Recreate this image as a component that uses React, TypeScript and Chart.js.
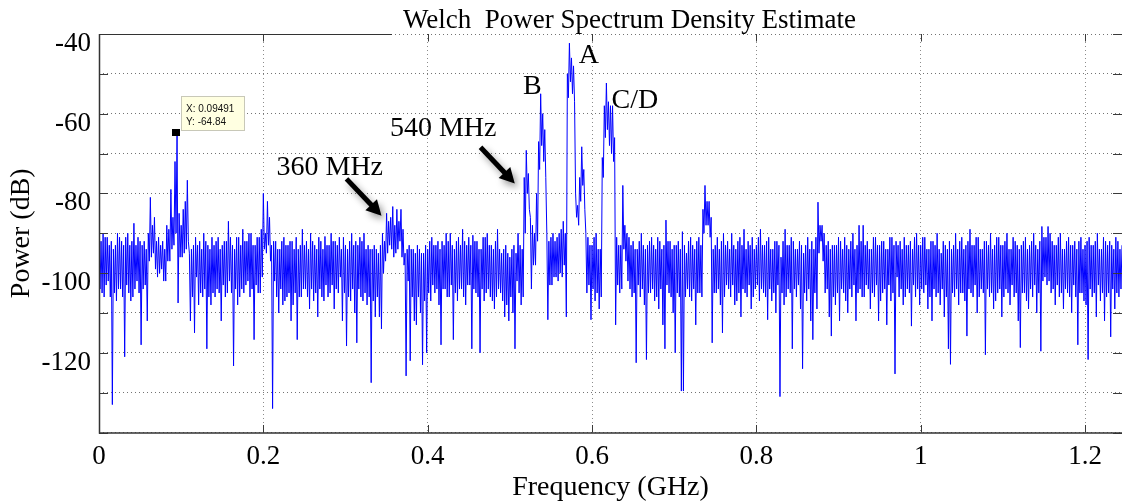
import React, { useEffect, useRef } from "react";
import { Chart, registerables } from "chart.js";

Chart.register(...registerables);

// ---- axes ----
const FREQ_STEP = 0.00125; // GHz between PSD samples
const X_MIN = 0;
const X_MAX = 1.245;
const Y_MIN = -140;
const Y_MAX = -40;
const X_TICKS = [0, 0.2, 0.4, 0.6, 0.8, 1, 1.2];
const Y_LABELS = [-40, -60, -80, -100, -120];

// ---- PSD samples (dB) ----
// 0 – 0.24875 GHz
const psd0 = [
  -93, -104, -92, -105, -90, -106, -91, -103, -91, -102,
  -93, -106, -92, -133, -94, -105, -93, -107, -90, -104,
  -91, -104, -92, -106, -93, -121, -91, -103, -90, -105,
  -93, -107, -92, -106, -87.5, -104, -93, -102, -91, -105,
  -92, -118, -93, -104, -92, -103, -94, -112, -90, -97,
  -81, -96, -88, -95, -86, -99, -92, -101, -91, -100,
  -93, -99, -92, -102, -94, -102, -88, -97, -89, -97,
  -79, -94, -86, -93, -72, -90, -64.84, -107.5, -85, -96,
  -88, -96, -84, -95, -82, -94, -76.7, -92, -95, -112,
  -94, -106, -93, -115, -91, -101, -93, -108, -92, -105,
  -94, -106, -90, -104, -92, -119, -93, -106, -94, -108,
  -91, -105, -93, -106, -92, -104, -91, -105, -94, -112,
  -93, -103, -92, -106, -92, -105, -87, -102, -91, -105,
  -93, -123.3, -94, -104, -91, -108, -91, -106, -93, -104,
  -89, -105, -92, -103, -92, -102, -90, -106, -90, -104,
  -93, -116.7, -93, -103, -91, -105, -91, -105, -89, -101,
  -80, -94, -90, -95, -82, -93, -86, -97, -93, -134,
  -92, -102, -92, -106, -94, -110, -94, -104, -92, -108,
  -91, -107, -93, -106, -93, -105, -92, -112, -92, -108,
  -94, -105, -91, -116.7, -94, -106, -93, -106, -89, -104,
];
// 0.25 – 0.49875 GHz
const psd1 = [
  -93, -104, -92, -106, -94, -109, -90, -104, -92, -107,
  -93, -105, -94, -111, -91, -104, -92, -106, -94, -107,
  -90.8, -103, -93, -106, -93, -105, -90, -103, -92, -109,
  -92, -104, -93, -105, -91, -101, -94, -112, -91, -105,
  -93, -118.3, -94, -106, -92, -107, -90, -104, -93, -110,
  -92, -117.5, -93, -104, -91, -106, -92, -107, -90, -105,
  -94, -108, -93, -106, -94, -127.5, -94, -107, -93, -111,
  -94, -106, -95, -111, -93, -114, -90, -100, -92, -97,
  -85, -95, -87, -93, -86, -94, -83.3, -96, -88, -95,
  -84, -94, -87, -92, -84, -96, -89, -98, -95, -125.8,
  -94, -102, -93, -122, -94, -106, -94, -112, -95, -113,
  -93, -106, -94, -110, -95, -123, -95, -107, -93, -120,
  -94, -105, -92, -107, -91, -103, -93, -105, -93, -104,
  -92, -108, -94, -118, -92, -104, -93, -104, -90, -106,
  -92, -106, -90, -103, -93, -116.7, -94, -105, -92, -107,
  -91, -104, -93, -104, -89, -106, -92, -108, -93, -103,
  -91, -103, -93, -119, -90.5, -104, -92, -105, -92, -106,
  -94, -120, -94, -104, -91, -107, -91, -105, -90, -104,
  -93, -106, -93, -107, -94, -109, -92, -106, -89, -104,
  -94, -105, -95, -107, -94, -111, -93, -108, -95, -112,
];
// 0.5 – 0.74875 GHz
const psd2 = [
  -96, -106, -94, -110, -93, -119, -95, -102, -90, -105,
  -93, -108, -94, -106, -76, -90, -69.2, -80, -75, -84,
  -86, -104, -88, -98, -90, -98, -80, -92, -67, -74,
  -55, -68, -60, -72, -64, -76, -90, -111.7, -92, -103,
  -91, -103, -90, -101, -92, -101, -91, -102, -90, -100,
  -89, -101, -87, -98, -90, -111, -50, -56, -42.3, -52,
  -46, -55, -48, -57, -80, -86, -83, -88, -76, -82,
  -68.3, -78, -74, -84, -90, -105, -91, -103, -93, -111.7,
  -93, -104, -91, -107, -90, -105, -94, -109, -94, -106,
  -71, -76, -58, -66, -52.3, -64, -57, -68, -58, -70,
  -58, -72, -66, -113, -91, -103, -93, -105, -93, -104,
  -78, -94, -88, -97, -90, -102, -91, -104, -93, -106,
  -92, -105, -94, -122.5, -94, -103, -92, -106, -90, -104,
  -93, -108, -94, -121.7, -93, -105, -92, -105, -91, -104,
  -93, -107, -94, -106, -91, -109, -92, -104, -94, -113,
  -93, -119, -86.7, -103, -92, -105, -92, -106, -94, -110,
  -93, -120, -93, -105, -92, -106, -94, -129.6, -89.6, -129.6,
  -93, -106, -95, -104, -92, -106, -91, -107, -93, -104,
  -94, -113, -92, -105, -91, -105, -93, -106, -84, -90,
  -78, -88, -82, -88, -82, -91, -86, -117.5, -94, -105,
];
// 0.75 – 0.99875 GHz
const psd3 = [
  -93, -105, -91, -104, -94, -108, -92, -115, -90, -106,
  -93, -103, -92, -104, -94, -106, -90, -103, -93, -108,
  -94, -107, -92, -105, -91, -111, -93, -104, -89, -105,
  -94, -106, -92, -103, -93, -109, -91, -106, -94, -104,
  -93, -103, -91, -107, -89, -104, -93, -105, -93, -106,
  -92, -111.7, -91, -104, -94, -107, -94, -105, -92, -110,
  -92, -103, -93, -131, -96, -105, -92, -108, -89, -106,
  -93, -104, -93, -105, -91, -119, -92, -104, -94, -106,
  -94, -103, -92, -109, -93, -124, -95, -105, -93, -107,
  -91, -104, -94, -112, -92, -116.7, -94, -105, -91, -109,
  -82.2, -95, -88, -92, -88, -97, -90, -105, -93, -104,
  -92, -111, -94, -115.8, -93, -106, -93, -108, -93, -105,
  -91, -112, -92, -104, -94, -105, -91, -107, -93, -110,
  -94, -104, -92, -106, -90, -103, -94, -112, -93, -105,
  -88, -104, -92, -106, -88, -106, -93, -103, -92, -104,
  -94, -109, -94, -105, -91, -106, -91, -103, -93, -112,
  -93, -107, -92, -105, -92, -104, -94, -113, -94, -103,
  -91, -107, -91, -105, -93, -125.3, -92, -101, -93, -106,
  -92, -104, -94, -108, -91, -106, -93, -104, -93, -105,
  -92, -113.3, -94, -103, -91, -106, -90, -104, -93, -108,
];
// 1.0 – 1.24625 GHz
const psd4 = [
  -93, -104, -91, -105, -91, -103, -94, -109, -94, -106,
  -92, -112, -92, -104, -93, -106, -90, -105, -94, -108,
  -95, -104, -92, -111, -93, -106, -94, -119, -92, -122.9,
  -94, -105, -93, -106, -90, -104, -94, -108, -92, -105,
  -91, -105, -94, -107, -93, -115.8, -92, -104, -89, -105,
  -93, -106, -93, -103, -91, -110, -91, -106, -94, -104,
  -94, -105, -92, -120.5, -92, -104, -93, -106, -90, -105,
  -94, -109, -93, -107, -91, -105, -91, -104, -93, -111,
  -93, -106, -92, -104, -90, -105, -94, -108, -94, -103,
  -91, -106, -92, -105, -93, -112, -94, -118.7, -93, -105,
  -92, -105, -91, -107, -94, -109, -93, -104, -92, -106,
  -90, -103, -93, -110, -94, -105, -92, -119.6, -88.3, -102,
  -91, -101, -91, -103, -88.3, -102, -90, -105, -92, -104,
  -93, -108, -93, -103, -91, -106, -90, -105, -94, -109,
  -94, -104, -92, -105, -91, -106, -93, -110, -93, -103,
  -92, -106, -94, -118, -92, -105, -91, -105, -94, -107,
  -93, -108, -92, -121.7, -91, -104, -93, -106, -93, -105,
  -92, -111, -90, -103, -94, -107, -94, -105, -91, -112,
  -92, -106, -93, -105, -92, -116, -93, -104, -94, -109,
  -91, -105, -92, -106, -94, -104, -93, -103,
];

// ---- annotations (left / baseline anchor in data units) ----
const LABEL_TEXTS = ["360 MHz", "540 MHz", "B", "A", "C/D"];
const LABEL_FREQ = [0.216, 0.354, 0.5161, 0.5839, 0.6237];
const LABEL_DB = [-75.3, -65.7, -55.1, -47.2, -58.5];
const ARROW_FROM = [[0.3012, -76.35], [0.4643, -68.4]];
const ARROW_TO = [[0.3438, -85.6], [0.506, -77.5]];
const TIP_FREQ = 0.09491;
const TIP_DB = -64.84;

const SERIF = '"Liberation Serif", "Times New Roman", serif';
const SANS = '"Liberation Sans", Arial, sans-serif';

const overlayPlugin = {
  id: "overlay",
  afterDatasetsDraw(chart: any) {
    const { ctx, chartArea: a, scales } = chart;
    const xs = scales.x;
    const ys = scales.y;
    ctx.save();

    // inner tick marks
    ctx.strokeStyle = "#3a3a3a";
    ctx.lineWidth = 1;
    ctx.beginPath();
    X_TICKS.forEach((t) => {
      const px = Math.round(xs.getPixelForValue(t)) + 0.5;
      ctx.moveTo(px, a.bottom);
      ctx.lineTo(px, a.bottom - 7.5);
      ctx.moveTo(px, a.top);
      ctx.lineTo(px, a.top + 7.5);
    });
    for (let v = Y_MIN; v <= Y_MAX; v += 10) {
      const py = Math.round(ys.getPixelForValue(v)) + 0.5;
      ctx.moveTo(a.left, py);
      ctx.lineTo(a.left + 9, py);
      ctx.moveTo(a.right, py);
      ctx.lineTo(a.right - 9, py);
    }
    ctx.stroke();

    // axes box
    ctx.strokeStyle = "#333";
    ctx.lineWidth = 1.5;
    ctx.beginPath();
    ctx.moveTo(a.left + 0.5, a.top);
    ctx.lineTo(a.left + 0.5, a.bottom + 0.5);
    ctx.lineTo(a.right, a.bottom + 0.5);
    ctx.stroke();
    ctx.lineWidth = 1;
    ctx.beginPath();
    ctx.moveTo(a.left, a.top + 0.5);
    ctx.lineTo(a.left + 293, a.top + 0.5);
    ctx.stroke();

    // annotation texts
    ctx.fillStyle = "#000";
    ctx.font = `28px ${SERIF}`;
    ctx.textAlign = "left";
    ctx.textBaseline = "alphabetic";
    LABEL_TEXTS.forEach((t, i) => {
      ctx.fillText(t, xs.getPixelForValue(LABEL_FREQ[i]), ys.getPixelForValue(LABEL_DB[i]));
    });

    // arrows with soft shadow
    ctx.shadowColor = "rgba(0,0,0,0.4)";
    ctx.shadowBlur = 7;
    ctx.shadowOffsetX = 3;
    ctx.shadowOffsetY = 4;
    ctx.strokeStyle = "#000";
    ctx.fillStyle = "#000";
    ARROW_FROM.forEach((f, i) => {
      const x1 = xs.getPixelForValue(f[0]);
      const y1 = ys.getPixelForValue(f[1]);
      const x2 = xs.getPixelForValue(ARROW_TO[i][0]);
      const y2 = ys.getPixelForValue(ARROW_TO[i][1]);
      const ang = Math.atan2(y2 - y1, x2 - x1);
      const headLen = 15;
      const headW = 8;
      const bx = x2 - headLen * Math.cos(ang);
      const by = y2 - headLen * Math.sin(ang);
      ctx.lineWidth = 5;
      ctx.lineCap = "butt";
      ctx.beginPath();
      ctx.moveTo(x1, y1);
      ctx.lineTo(bx + Math.cos(ang), by + Math.sin(ang));
      ctx.stroke();
      ctx.beginPath();
      ctx.moveTo(x2, y2);
      ctx.lineTo(bx + headW * Math.sin(ang), by - headW * Math.cos(ang));
      ctx.lineTo(bx - headW * Math.sin(ang), by + headW * Math.cos(ang));
      ctx.closePath();
      ctx.fill();
    });
    ctx.shadowColor = "transparent";
    ctx.shadowBlur = 0;
    ctx.shadowOffsetX = 0;
    ctx.shadowOffsetY = 0;

    // data tip
    const mx = xs.getPixelForValue(TIP_FREQ);
    const my = ys.getPixelForValue(TIP_DB);
    const bx0 = Math.round(mx + 4) + 0.5;
    const by0 = Math.round(my - 37) + 0.5;
    ctx.fillStyle = "#ffffe1";
    ctx.fillRect(bx0, by0, 63, 34);
    ctx.strokeStyle = "#c8c8b8";
    ctx.lineWidth = 1;
    ctx.strokeRect(bx0, by0, 63, 34);
    ctx.fillStyle = "#111";
    ctx.font = `10px ${SANS}`;
    ctx.textAlign = "left";
    ctx.fillText(`X: ${TIP_FREQ}`, bx0 + 4.5, by0 + 15);
    ctx.fillText(`Y: ${TIP_DB}`, bx0 + 4.5, by0 + 28);
    ctx.fillStyle = "#000";
    ctx.fillRect(Math.round(mx - 4.5), Math.round(my - 3.5), 8, 7);

    ctx.restore();
  },
  afterDraw(chart: any) {
    const { ctx, chartArea: a } = chart;
    ctx.save();
    ctx.fillStyle = "#000";
    ctx.font = `27px ${SERIF}`;
    ctx.textAlign = "center";
    ctx.textBaseline = "alphabetic";
    ctx.fillText("Welch  Power Spectrum Density Estimate", (a.left + a.right) / 2 + 19, 27.5);
    ctx.restore();
  },
};

export default function App() {
  const ref = useRef<HTMLCanvasElement>(null);

  useEffect(() => {
    const psd = [...psd0, ...psd1, ...psd2, ...psd3, ...psd4];
    const points = psd.map((v, i) => ({ x: i * FREQ_STEP, y: v }));
    const chart = new Chart(ref.current as HTMLCanvasElement, {
      type: "line",
      data: {
        datasets: [
          {
            data: points,
            borderColor: "#0000ff",
            borderWidth: 1,
            pointRadius: 0,
            tension: 0,
            fill: false,
            borderJoinStyle: "bevel",
          },
        ],
      },
      options: {
        animation: false,
        responsive: false,
        devicePixelRatio: 1,
        parsing: false as any,
        layout: { padding: { top: 34, left: 0, right: 0, bottom: 0 } },
        plugins: {
          legend: { display: false },
          title: { display: false },
          tooltip: { enabled: false },
        },
        scales: {
          x: {
            type: "linear",
            min: X_MIN,
            max: X_MAX,
            afterFit: (s: any) => {
              s.height = 71.5;
            },
            ticks: {
              stepSize: 0.2,
              includeBounds: false,
              autoSkip: false,
              maxRotation: 0,
              padding: 8,
              color: "#000",
              font: { family: SERIF, size: 27 },
              callback: (v: any) => String(Number(Number(v).toFixed(2))),
            },
            grid: { color: "rgba(0,0,0,0.45)", lineWidth: 1, drawTicks: false },
            border: { display: false, dash: [1, 3] },
            title: {
              display: true,
              text: "Frequency (GHz)",
              color: "#000",
              font: { family: SERIF, size: 28 },
              padding: { top: 0, bottom: 0 },
            },
          },
          y: {
            type: "linear",
            min: Y_MIN,
            max: Y_MAX,
            afterFit: (s: any) => {
              s.width = 99;
            },
            ticks: {
              stepSize: 10,
              autoSkip: false,
              padding: 8,
              labelOffset: 10,
              color: "#000",
              font: { family: SERIF, size: 27 },
              callback: (v: any) => (Y_LABELS.includes(Number(v)) ? String(v) : ""),
            },
            grid: { color: "rgba(0,0,0,0.55)", lineWidth: 1, drawTicks: false },
            border: { display: false, dash: [1, 3] },
            title: {
              display: true,
              text: "Power (dB)",
              color: "#000",
              font: { family: SERIF, size: 28 },
              padding: { top: 5, bottom: 0 },
            },
          },
        },
      },
      plugins: [overlayPlugin],
    });
    return () => chart.destroy();
  }, []);

  return (
    <div style={{ position: "absolute", left: 0, top: 0, width: 1122, height: 504, background: "#fff" }}>
      <canvas ref={ref} width={1122} height={504} style={{ display: "block" }} />
    </div>
  );
}
